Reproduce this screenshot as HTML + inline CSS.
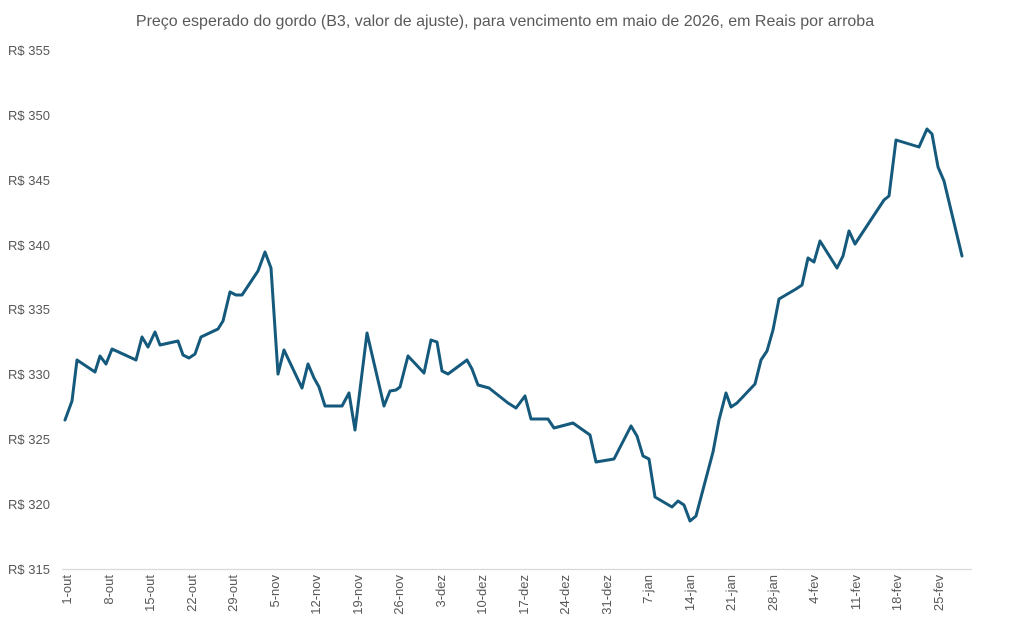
<!DOCTYPE html><html><head><meta charset="utf-8"><style>body{margin:0;background:#fff}svg{display:block;font-family:"Liberation Sans",sans-serif}</style></head><body>
<svg width="1011" height="629" viewBox="0 0 1011 629">
<text x="505" y="26" text-anchor="middle" font-size="16" fill="#595959">Preço esperado do gordo (B3, valor de ajuste), para vencimento em maio de 2026, em Reais por arroba</text>
<g font-size="13" fill="#595959">
<text x="8" y="55">R$ 355</text><text x="8" y="120">R$ 350</text><text x="8" y="185">R$ 345</text><text x="8" y="250">R$ 340</text><text x="8" y="314">R$ 335</text><text x="8" y="379">R$ 330</text><text x="8" y="444">R$ 325</text><text x="8" y="509">R$ 320</text><text x="8" y="574">R$ 315</text>
</g>
<line x1="62" y1="569.5" x2="972" y2="569.5" stroke="#d9d9d9" stroke-width="1.3"/>
<g font-size="13" fill="#595959" text-anchor="end">
<text transform="translate(71,575) rotate(-90)">1-out</text>
<text transform="translate(113,575) rotate(-90)">8-out</text>
<text transform="translate(154,575) rotate(-90)">15-out</text>
<text transform="translate(196,575) rotate(-90)">22-out</text>
<text transform="translate(237,575) rotate(-90)">29-out</text>
<text transform="translate(279,575) rotate(-90)">5-nov</text>
<text transform="translate(320,575) rotate(-90)">12-nov</text>
<text transform="translate(362,575) rotate(-90)">19-nov</text>
<text transform="translate(403,575) rotate(-90)">26-nov</text>
<text transform="translate(445,575) rotate(-90)">3-dez</text>
<text transform="translate(486,575) rotate(-90)">10-dez</text>
<text transform="translate(528,575) rotate(-90)">17-dez</text>
<text transform="translate(569,575) rotate(-90)">24-dez</text>
<text transform="translate(611,575) rotate(-90)">31-dez</text>
<text transform="translate(652,575) rotate(-90)">7-jan</text>
<text transform="translate(694,575) rotate(-90)">14-jan</text>
<text transform="translate(735,575) rotate(-90)">21-jan</text>
<text transform="translate(777,575) rotate(-90)">28-jan</text>
<text transform="translate(818,575) rotate(-90)">4-fev</text>
<text transform="translate(860,575) rotate(-90)">11-fev</text>
<text transform="translate(901,575) rotate(-90)">18-fev</text>
<text transform="translate(943,575) rotate(-90)">25-fev</text>
</g>
<polyline fill="none" stroke="#155a7c" stroke-width="3" stroke-linejoin="round" stroke-linecap="round" points="65,420 72,401 77,360 95,372 100,356 106,364 112,349 136,360 142,337 148,347 155,332 160,345 178,341 183,355 189,358 195,354 201,337 218,329 223,321 230,292 236,295 242,295 258,271 265,252 271,268 278,374 284,350 302,388 308,364 314,378 319,387 325,406 342,406 349,393 355,430 367,333 384,406 390,391 396,390 400,387 408,356 424,373 431,340 437,342 442,371 448,374 467,360 472,369 478,385 489,388 508,403 516,408 525,396 531,419 548,419 554,428 573,423 590,435 596,462 614,459 631,426 637,436 643,456 649,459 655,497 672,507 678,501 684,505 690,521 696,516 713,452 719,420 726,393 731,407 737,403 755,384 761,360 767,351 773,330 779,299 796,289 802,285 808,258 814,262 820,241 837,268 843,256 849,231 855,244 884,200 889,196 896,140 919,147 927,129 932,134 938,167 944,181 962,256"/>
</svg></body></html>
